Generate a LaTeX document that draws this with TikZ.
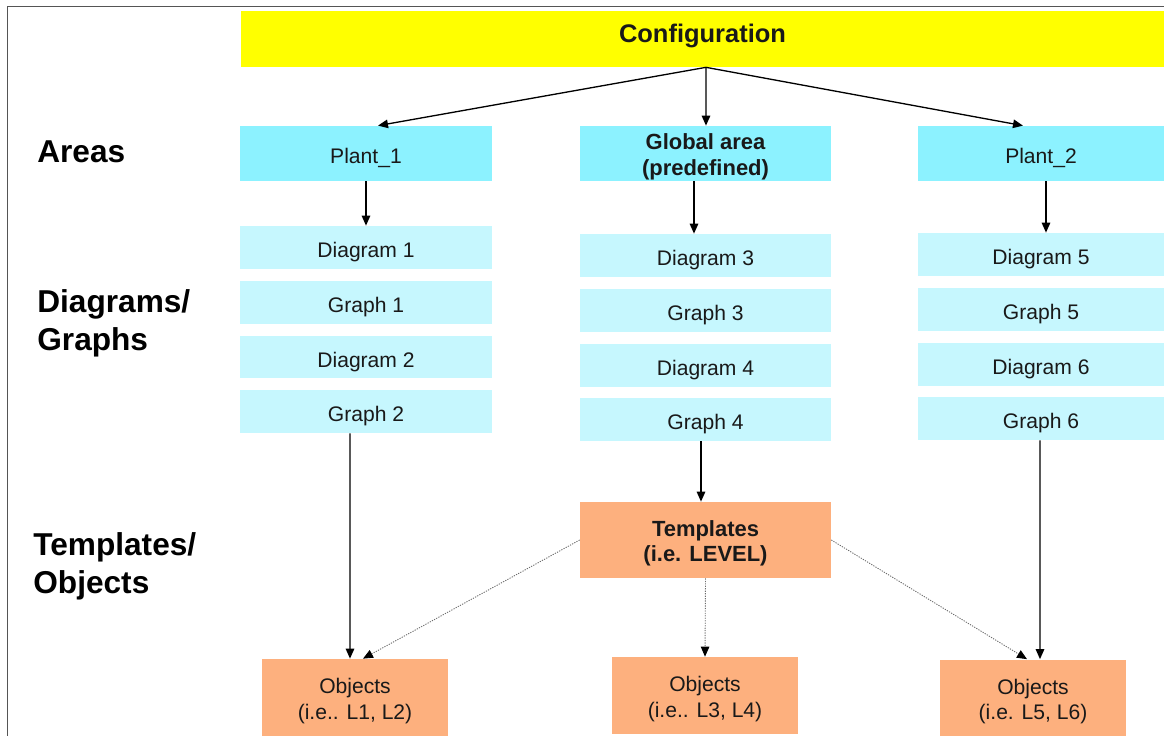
\documentclass[tikz,border=0pt]{standalone}
\usepackage{fontspec}
\setmainfont{Liberation Sans}
\usepackage{tikz}
\usetikzlibrary{arrows.meta}
\usetikzlibrary{calc}

\definecolor{cfgyellow}{HTML}{FFFF00}
\definecolor{areacyan}{HTML}{8CF2FF}
\definecolor{diagcyan}{HTML}{C6F7FE}
\definecolor{tmplorange}{HTML}{FDB07E}
\definecolor{framegray}{HTML}{555555}
\newcommand{\boxstrut}{\rule{0pt}{12.9pt}}

\begin{document}
\begin{tikzpicture}[x=0.02cm, y=-0.02cm,
        textdrop/.style={execute at begin node={\rule{0pt}{#1}}},
        box/.style={inner sep=0pt, align=center, text=black!90, font=\fontsize{12}{14.5}\selectfont},
        area/.style={box, fill=areacyan, minimum height=1.1cm},
        diag/.style={box, fill=diagcyan, minimum height=0.86cm, textdrop=14.2pt},
        obj/.style={box, fill=tmplorange, minimum width=3.72cm, minimum height=1.54cm},
        lbl/.style={anchor=west, inner sep=0pt, align=left, font=\bfseries\fontsize{18}{21.5}\selectfont},
        arr/.style={line width=0.75pt, -{Triangle[length=0.2cm, width=0.17cm]}},
        dotarr/.style={gray!85!black, line width=0.5pt, dash pattern=on 0.7pt off 0.7pt, -{Triangle[length=0.2cm, width=0.17cm, color=black]}}]
        \useasboundingbox (0,0) rectangle (1164,736);
        \draw[framegray, line width=0.9pt] (7.5,736) -- (7.5,6.5) -- (1164,6.5);
        \node[box, fill=cfgyellow, minimum width=18.46cm, minimum height=1.12cm, text depth=6.4pt, font=\bfseries\fontsize{14.5}{17}\selectfont] (config) at (702.5,39) {Configuration};
        \node[lbl] (lblarea) at (37,152) {Areas};
        \node[lbl] (lbldiag) at (37,323) {Diagrams/\\Graphs};
        \node[lbl] (lbltmpl) at (33,566) {Templates/\\Objects};
        \node[area, minimum width=5.04cm, textdrop=13.6pt] (plant1) at (366,153.5) {Plant\_1};
        \node[area, minimum width=5.02cm, font=\bfseries\fontsize{12.5}{15}\selectfont] (global) at (705.5,153.5) {\boxstrut Global area\\(predefined)};
        \node[area, minimum width=4.92cm, textdrop=13.6pt] (plant2) at (1041,153.5) {Plant\_2};
        \node[diag, minimum width=5.04cm] (diag1) at (366,247.5) {Diagram 1};
        \node[diag, minimum width=5.04cm] (graph1) at (366,302.5) {Graph 1};
        \node[diag, minimum width=5.04cm] (diag2) at (366,357) {Diagram 2};
        \node[diag, minimum width=5.04cm] (graph2) at (366,411.5) {Graph 2};
        \node[diag, minimum width=5.02cm] (diag3) at (705.5,255.5) {Diagram 3};
        \node[diag, minimum width=5.02cm] (graph3) at (705.5,310.5) {Graph 3};
        \node[diag, minimum width=5.02cm] (diag4) at (705.5,365.5) {Diagram 4};
        \node[diag, minimum width=5.02cm] (graph4) at (705.5,419.5) {Graph 4};
        \node[diag, minimum width=4.92cm] (diag5) at (1041,254.5) {Diagram 5};
        \node[diag, minimum width=4.92cm] (graph5) at (1041,309.5) {Graph 5};
        \node[diag, minimum width=4.92cm] (diag6) at (1041,364.5) {Diagram 6};
        \node[diag, minimum width=4.92cm] (graph6) at (1041,418.5) {Graph 6};
        \node[box, fill=tmplorange, minimum width=5.02cm, minimum height=1.52cm, font=\bfseries\fontsize{12.5}{14.5}\selectfont] (tmpl) at (705.5,540) {\boxstrut Templates\\(i.e. LEVEL)};
        \node[obj] (obj1) at (355,697.5) {\boxstrut Objects\\(i.e.. L1, L2)};
        \node[obj] (obj2) at (705,695.5) {\boxstrut Objects\\(i.e.. L3, L4)};
        \node[obj] (obj3) at (1033,698) {\boxstrut Objects\\(i.e. L5, L6)};
        \draw[arr] ([xshift=0.07cm]config.south) -- ([xshift=0.24cm]plant1.north);
        \draw[arr] ([xshift=0.07cm]config.south) -- ([xshift=0.01cm]global.north);
        \draw[arr] ([xshift=0.07cm]config.south) -- ([xshift=-0.36cm]plant2.north);
        \draw[arr] (plant1.south) -- (diag1.north);
        \draw[arr] ([xshift=-0.23cm]global.south) -- ([xshift=-0.23cm]diag3.north);
        \draw[arr] ([xshift=0.1cm]plant2.south) -- ([xshift=0.1cm]diag5.north);
        \draw[arr] ([xshift=-0.32cm]graph2.south) -- ([xshift=-0.1cm]obj1.north);
        \draw[arr] ([xshift=-0.09cm]graph4.south) -- ([xshift=-0.09cm]tmpl.north);
        \draw[arr] ([xshift=-0.02cm]graph6.south) -- ([xshift=0.14cm]obj3.north);
        \draw[dotarr] (tmpl.west) -- ([xshift=0.16cm]obj1.north);
        \draw[dotarr] (tmpl.south) -- (obj2.north);
        \draw[dotarr] (tmpl.east) -- ([xshift=-0.12cm]obj3.north);
    \end{tikzpicture}
\end{document}
